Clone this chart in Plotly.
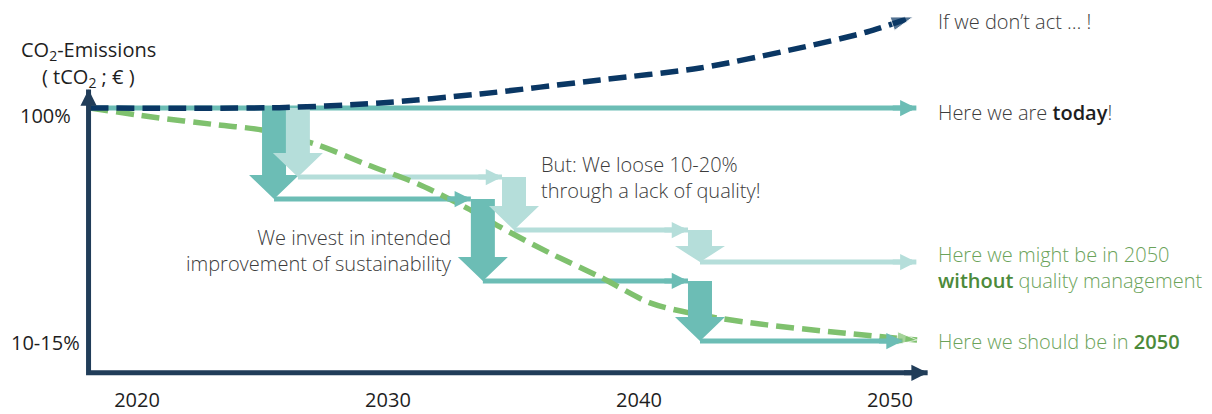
import plotly.graph_objects as go

# ---------------- data ----------------
tick_years = [2020, 2030, 2040, 2050]
tick_labels = ["2020", "2030", "2040", "2050"]

level_labels = ["100%", "10-15%"]
level_values = [100.0, 12.0]

origin_year = 2018.07          # where the two axes meet
axis_x_tip_year = 2051.5
axis_y_tip_pct = 107.0
arrow_end_year = 2051.05        # end of the right-hand arrows
final_step_end_year = 2050.5

# "If we don't act ... !" (business as usual)
bau_years = [2018.13, 2025.90, 2029.68, 2033.67, 2038.45, 2042.43, 2046.41, 2049.08, 2050.92]
bau_pct = [100.0, 100.2, 101.9, 105.3, 110.6, 115.1, 122.7, 128.7, 134.4]

# target path (green)
target_years = [2018.13, 2020.60, 2023.23, 2024.98, 2027.21, 2029.20, 2031.20, 2033.15,
                2034.46, 2036.45, 2038.45, 2040.44, 2042.43, 2045.10, 2047.73, 2051.08]
target_pct = [100.0, 96.6, 93.6, 91.7, 86.0, 78.5, 71.3, 62.2,
              55.1, 45.2, 36.2, 26.4, 21.8, 18.1, 15.4, 12.4]

# intended improvement steps (with quality management)
invest_years = [2025.46, 2033.78, 2042.43]
invest_levels = [100.0, 65.6, 34.7, 12.0]

# steps with a 10-20 % loss (without quality management)
loss_years = [2026.41, 2035.02, 2042.43]
loss_levels = [100.0, 73.9, 53.9, 41.8]

# ---------------- style ----------------
W, H = 1212, 414
M_B = 30
X_RANGE = [2014.542, 2062.829]
Y_RANGE = [-4.23, 140.79]
PLOT_H = H - M_B
YR_PER_PX = (X_RANGE[1] - X_RANGE[0]) / W
PCT_PER_PX = (Y_RANGE[1] - Y_RANGE[0]) / PLOT_H

TEAL = "#6CBDB5"
TEAL_LIGHT = "#B5DEDA"
NAVY = "#0A3764"
AXIS = "#213D59"
GREEN = "#7FC16E"
GREEN_TXT = "#6BA35A"
GREEN_BOLD = "#4C8A3A"
GRAY_TXT = "#3C3C3C"
DARK_TXT = "#1E1E1E"
FONT = "Open Sans, sans-serif"
TXT_SIZE = 20

fig = go.Figure()


def add_segment(x0, x1, y, color, width=5):
    fig.add_trace(go.Scatter(x=[x0, x1], y=[y, y], mode="lines",
                             line=dict(color=color, width=width),
                             hoverinfo="skip", showlegend=False))


def add_head(x_tip, y_tip, x_tail, y_tail, color, width=5, size=0.65):
    fig.add_annotation(x=x_tip, y=y_tip, ax=x_tail, ay=y_tail,
                       xref="x", yref="y", axref="x", ayref="y",
                       text="", showarrow=True, arrowhead=2,
                       arrowsize=size, arrowwidth=width, arrowcolor=color)


def block_arrow(xc, top, bottom, color, shaft_px=12.0, head_px=25.0, head_len_px=24.0):
    hs = shaft_px * YR_PER_PX
    hh = head_px * YR_PER_PX
    total_px = (top - bottom) / PCT_PER_PX
    hl = min(head_len_px, 0.5 * total_px) * PCT_PER_PX
    neck = bottom + hl
    xs = [xc - hs, xc + hs, xc + hs, xc + hh, xc, xc - hh, xc - hs, xc - hs]
    ys = [top, top, neck, neck, bottom, neck, neck, top]
    fig.add_trace(go.Scatter(x=xs, y=ys, mode="lines", fill="toself",
                             fillcolor=color, line=dict(color=color, width=0),
                             hoverinfo="skip", showlegend=False))


shaft_half = 12.0 * YR_PER_PX

# "today" line
add_segment(origin_year, arrow_end_year, invest_levels[0], TEAL)
add_head(arrow_end_year, invest_levels[0], arrow_end_year - 1.0, invest_levels[0], TEAL)

# horizontal runs of the intended path
for i, xs in enumerate(invest_years):
    x_end = invest_years[i + 1] - shaft_half if i + 1 < len(invest_years) else final_step_end_year
    add_segment(xs, x_end, invest_levels[i + 1], TEAL)
    add_head(x_end, invest_levels[i + 1], x_end - 1.0, invest_levels[i + 1], TEAL)

# horizontal runs of the lossy path
for i, xs in enumerate(loss_years):
    x_end = loss_years[i + 1] - shaft_half if i + 1 < len(loss_years) else arrow_end_year
    add_segment(xs, x_end, loss_levels[i + 1], TEAL_LIGHT)
    add_head(x_end, loss_levels[i + 1], x_end - 1.0, loss_levels[i + 1], TEAL_LIGHT)

# green target curve
fig.add_trace(go.Scatter(
    x=target_years, y=target_pct, mode="lines+markers",
    line=dict(color=GREEN, width=5.5, dash="18px,8px", shape="spline", smoothing=0.8),
    marker=dict(symbol="arrow", angleref="previous", color=GREEN,
                size=[0] * (len(target_years) - 1) + [21]),
    hoverinfo="skip", showlegend=False))

# block arrows
for i, xc in enumerate(invest_years):
    block_arrow(xc, invest_levels[i], invest_levels[i + 1], TEAL)
for i, xc in enumerate(loss_years):
    block_arrow(xc, loss_levels[i], loss_levels[i + 1], TEAL_LIGHT)

# navy "if we don't act" curve
fig.add_trace(go.Scatter(
    x=bau_years, y=bau_pct, mode="lines+markers",
    line=dict(color=NAVY, width=5.5, dash="18px,8px", shape="spline", smoothing=0.8),
    marker=dict(symbol="arrow", angleref="previous", color=NAVY,
                size=[0] * (len(bau_years) - 1) + [23]),
    hoverinfo="skip", showlegend=False))

# axes
fig.add_trace(go.Scatter(x=[origin_year, origin_year, axis_x_tip_year],
                         y=[axis_y_tip_pct, 0, 0], mode="lines",
                         line=dict(color=AXIS, width=5),
                         hoverinfo="skip", showlegend=False))
add_head(origin_year, axis_y_tip_pct, origin_year, axis_y_tip_pct - 5, AXIS)
add_head(axis_x_tip_year, 0, axis_x_tip_year - 1.0, 0, AXIS)

# ---------------- texts ----------------
base_font = dict(family=FONT, size=TXT_SIZE, color=GRAY_TXT, weight=300)
SEMI = "<span style='font-weight:600;color:%s'>%s</span>"

for txt, ysh in [("CO<sub>2</sub>-Emissions", 39), ("( tCO<sub>2</sub> ; € )", 12)]:
    fig.add_annotation(x=origin_year, y=axis_y_tip_pct, xref="x", yref="y",
                       text=txt, showarrow=False, xanchor="center", yanchor="middle",
                       yshift=ysh, font=dict(family=FONT, size=20, color=DARK_TXT))

for lab, val, xs, ys in zip(level_labels, level_values, [-16, -7], [-7, -1]):
    fig.add_annotation(x=origin_year, y=val, xref="x", yref="y", text=lab,
                       showarrow=False, xanchor="right", yanchor="middle",
                       xshift=xs, yshift=ys,
                       font=dict(family=FONT, size=20, color=DARK_TXT))

label_shift = 20
fig.add_annotation(x=arrow_end_year, y=bau_pct[-1], xref="x", yref="y",
                   text="If we don’t act … !", showarrow=False,
                   xanchor="left", yanchor="middle", xshift=label_shift, yshift=-5,
                   font=base_font)
fig.add_annotation(x=arrow_end_year, y=invest_levels[0], xref="x", yref="y",
                   text="Here we are " + SEMI % (DARK_TXT, "today") + "!",
                   showarrow=False, xanchor="left", yanchor="middle",
                   xshift=label_shift, yshift=-4, font=base_font)
fig.add_annotation(x=arrow_end_year, y=loss_levels[-1], xref="x", yref="y",
                   text="Here we might be in 2050<br>" + SEMI % (GREEN_BOLD, "without") + " quality management",
                   showarrow=False, xanchor="left", yanchor="middle", align="left",
                   xshift=label_shift, yshift=-5,
                   font=dict(family=FONT, size=TXT_SIZE, color=GREEN_TXT, weight=300))
fig.add_annotation(x=arrow_end_year, y=invest_levels[-1], xref="x", yref="y",
                   text="Here we should be in " + SEMI % (GREEN_BOLD, "2050"),
                   showarrow=False, xanchor="left", yanchor="middle",
                   xshift=label_shift, yshift=0,
                   font=dict(family=FONT, size=TXT_SIZE, color=GREEN_TXT, weight=300))

fig.add_annotation(x=loss_years[1], y=loss_levels[1], xref="x", yref="y",
                   text="But: We loose 10-20%<br>through a lack of quality!",
                   showarrow=False, xanchor="left", yanchor="middle", align="left",
                   xshift=25, yshift=0, font=base_font)
fig.add_annotation(x=invest_years[1], y=invest_levels[2], xref="x", yref="y",
                   text="We invest in intended<br>improvement of sustainability",
                   showarrow=False, xanchor="right", yanchor="middle", align="right",
                   xshift=-29, yshift=30, font=base_font)

fig.update_layout(
    width=W, height=H,
    margin=dict(l=0, r=0, t=0, b=M_B, pad=0),
    paper_bgcolor="white", plot_bgcolor="white",
    showlegend=False,
    xaxis=dict(range=X_RANGE, tickmode="array", tickvals=tick_years, ticktext=tick_labels,
               showgrid=False, zeroline=False, showline=False, ticks="",
               ticklabelstandoff=2,
               tickfont=dict(family=FONT, size=20, color=DARK_TXT), fixedrange=True),
    yaxis=dict(range=Y_RANGE, visible=False, showgrid=False, zeroline=False, fixedrange=True),
)

fig.write_html("out.html")
